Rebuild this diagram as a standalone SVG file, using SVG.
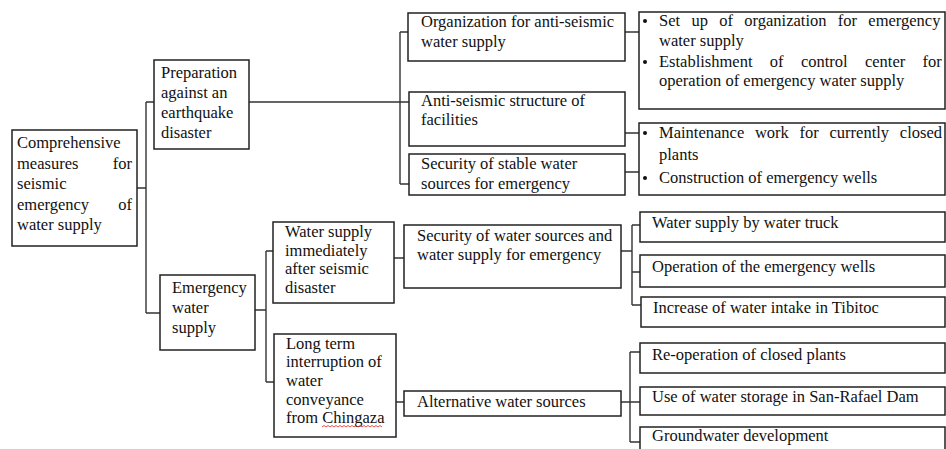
<svg xmlns="http://www.w3.org/2000/svg" width="946" height="449" viewBox="0 0 946 449">
<style>
  .box { fill: #fff; stroke: #222; stroke-width: 1.5; }
  .ln { fill: none; stroke: #333; stroke-width: 1.4; }
  text { font-family: "Liberation Serif", "Times New Roman", serif; font-size: 16.5px; fill: #111; }
  .e { text-anchor: end; }
  .b { fill: #111; }
</style>
<rect x="0" y="0" width="946" height="449" fill="#fff"/>
<g id="connectors">
  <path class="ln" d="M137,188 H146 M146,102 V313 M146,102 H154 M146,313 H170"/>
  <path class="ln" d="M249,102 H409 M400,32 V184 M400,32 H408 M400,184 H409"/>
  <path class="ln" d="M625,32 H639 M625,133 H639 M625,172 H639"/>
  <path class="ln" d="M255,310 H266 M266,251 V382 M266,251 H273 M266,382 H274"/>
  <path class="ln" d="M394,258 H404 M396,402 H404"/>
  <path class="ln" d="M621,251 H632 M632,225 V305 M632,225 H640 M632,272 H640 M632,305 H641"/>
  <path class="ln" d="M621,402 H640 M630,352 V442 M630,352 H640 M630,442 H640"/>
</g>
<g id="root">
  <rect class="box" x="12" y="130" width="125" height="116"/>
  <text x="17" y="148">Comprehensive</text>
  <text x="17" y="169">measures</text><text class="e" x="132" y="169">for</text>
  <text x="17" y="189">seismic</text>
  <text x="17" y="210">emergency</text><text class="e" x="132" y="210">of</text>
  <text x="17" y="230">water supply</text>
</g>
<g id="preparation">
  <rect class="box" x="154" y="60" width="95" height="89"/>
  <text x="161" y="78">Preparation</text>
  <text x="161" y="98">against an</text>
  <text x="161" y="118">earthquake</text>
  <text x="161" y="138">disaster</text>
</g>
<g id="emergency">
  <rect class="box" x="160" y="275" width="95" height="75"/>
  <text x="172" y="293">Emergency</text>
  <text x="172" y="313">water</text>
  <text x="172" y="333">supply</text>
</g>
<g id="organization">
  <rect class="box" x="408" y="13" width="217" height="48"/>
  <text x="421" y="27">Organization for anti-seismic</text>
  <text x="421" y="47">water supply</text>
</g>
<g id="antiseismic">
  <rect class="box" x="409" y="92" width="216" height="54"/>
  <text x="421" y="106">Anti-seismic structure of</text>
  <text x="421" y="125">facilities</text>
</g>
<g id="stable">
  <rect class="box" x="409" y="154" width="216" height="41"/>
  <text x="421" y="169">Security of stable water</text>
  <text x="421" y="189">sources for emergency</text>
</g>
<g id="setup">
  <rect class="box" x="639" y="12" width="306" height="97"/>
  <circle class="b" cx="645" cy="21" r="2"/>
  <text x="659" y="26" word-spacing="7.2">Set up of organization for emergency</text>
  <text x="659" y="46">water supply</text>
  <circle class="b" cx="645" cy="62" r="2"/>
  <text x="659" y="67" word-spacing="13.2">Establishment of control center for</text>
  <text x="659" y="86">operation of emergency water supply</text>
</g>
<g id="maintenance">
  <rect class="box" x="639" y="123" width="306" height="72"/>
  <circle class="b" cx="645" cy="133" r="2"/>
  <text x="659" y="138" word-spacing="6.6">Maintenance work for currently closed</text>
  <text x="659" y="160">plants</text>
  <circle class="b" cx="645" cy="178" r="2"/>
  <text x="659" y="183">Construction of emergency wells</text>
</g>
<g id="immediate">
  <rect class="box" x="273" y="222" width="121" height="81"/>
  <text x="285" y="237">Water supply</text>
  <text x="285" y="256">immediately</text>
  <text x="285" y="274">after seismic</text>
  <text x="285" y="293">disaster</text>
</g>
<g id="longterm">
  <rect class="box" x="274" y="334" width="122" height="103"/>
  <text x="286" y="349">Long term</text>
  <text x="286" y="367">interruption of</text>
  <text x="286" y="386">water</text>
  <text x="286" y="405">conveyance</text>
  <text x="286" y="423">from Chingaza</text>
  <path d="M322,427 l2,-1.5 l2,1.5 l2,-1.5 l2,1.5 l2,-1.5 l2,1.5 l2,-1.5 l2,1.5 l2,-1.5 l2,1.5 l2,-1.5 l2,1.5 l2,-1.5 l2,1.5 l2,-1.5 l2,1.5 l2,-1.5 l2,1.5 l2,-1.5 l2,1.5 l2,-1.5 l2,1.5 l2,-1.5 l2,1.5 l2,-1.5 l2,1.5 l2,-1.5 l2,1.5 l2,-1.5 l2,1.5" fill="none" stroke="#e02020" stroke-width="0.8"/>
</g>
<g id="securitysources">
  <rect class="box" x="404" y="225" width="217" height="63"/>
  <text x="417" y="241">Security of water sources and</text>
  <text x="417" y="260">water supply for emergency</text>
</g>
<g id="alternative">
  <rect class="box" x="404" y="391" width="217" height="25"/>
  <text x="417" y="407">Alternative water sources</text>
</g>
<g id="truck">
  <rect class="box" x="640" y="212" width="305" height="30"/>
  <text x="652" y="228">Water supply by water truck</text>
</g>
<g id="operation">
  <rect class="box" x="640" y="255" width="305" height="32"/>
  <text x="652" y="272">Operation of the emergency wells</text>
</g>
<g id="intake">
  <rect class="box" x="641" y="297" width="304" height="30"/>
  <text x="653" y="313">Increase of water intake in Tibitoc</text>
</g>
<g id="reoperation">
  <rect class="box" x="640" y="343" width="305" height="30"/>
  <text x="652" y="360">Re-operation of closed plants</text>
</g>
<g id="storage">
  <rect class="box" x="640" y="387" width="305" height="28"/>
  <text x="652" y="402">Use of water storage in San-Rafael Dam</text>
</g>
<g id="groundwater">
  <rect class="box" x="640" y="427" width="305" height="30"/>
  <text x="652" y="441">Groundwater development</text>
</g>
</svg>
